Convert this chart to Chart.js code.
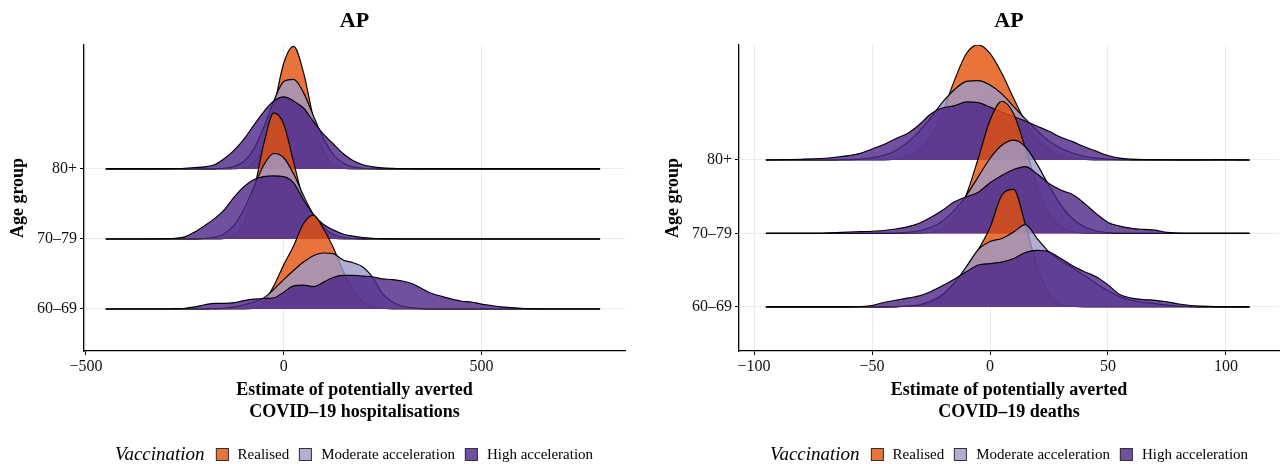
<!DOCTYPE html>
<html>
<head>
<meta charset="utf-8">
<script src="https://cdn.jsdelivr.net/npm/chart.js@4.4.1/dist/chart.umd.min.js"></script>
<style>
  body { margin: 0; background: #fff; }
  #wrap { position: relative; width: 1285px; height: 464px; font-family: "Liberation Serif", serif; }
  canvas { position: absolute; top: 0; }
  .legend { position: absolute; top: 444px; height: 20px; display: flex; align-items: center; color: #000;
            transform: translateX(-50%); white-space: nowrap; }
  .legend .ttl { font-style: italic; font-size: 19px; margin-right: 1px; }
  .legend .box { width: 11px; height: 11px; border: 1px solid #333; margin-left: 10px; margin-right: 9px; }
  .legend .lab { font-size: 15px; }
</style>
</head>
<body>
<div id="wrap">
  <canvas id="chart1" width="640" height="464" style="left:0"></canvas>
  <canvas id="chart2" width="645" height="464" style="left:640px"></canvas>
  <div class="legend" id="leg1" style="left:354px"></div>
  <div class="legend" id="leg2" style="left:1009px"></div>
</div>
<script>
const ageGroups = ['60–69', '70–79', '80+'];
const scenarios = ['Realised', 'Moderate acceleration', 'High acceleration'];
const colors = ['rgba(226,80,10,0.8)', 'rgba(158,154,200,0.8)', 'rgba(76,38,136,0.8)'];

// hospitalisations, density heights (row units) on a 25-step grid
const hospX = [-450,-425,-400,-375,-350,-325,-300,-275,-250,-225,
  -200,-175,-150,-125,-100,-75,-50,-25,0,25,
  50,75,100,125,150,175,200,225,250,275,
  300,325,350,375,400,425,450,475,500,525,
  550,575,600,625,650,675,700,725,750,775,800];
const hospTicks = [-500, 0, 500];

const hosp80Realised = [0,0,0,0,0,0,0,0,0,0,
  0,0,0,0.003,0.017,0.09,0.35,0.88,1.51,1.75,
  1.38,0.73,0.26,0.065,0.01,0,0,0,0,0,
  0,0,0,0,0,0,0,0,0,0,
  0,0,0,0,0,0,0,0,0,0,0];
const hosp80Moderate = [0,0,0,0,0,0,0,0,0,0,
  0,0.002,0.01,0.035,0.11,0.29,0.6,0.97,1.25,1.28,
  1.09,0.76,0.44,0.21,0.085,0.03,0.01,0.003,0,0,
  0,0,0,0,0,0,0,0,0,0,
  0,0,0,0,0,0,0,0,0,0,0];
const hosp80High = [0,0,0,0,0,0.002,0.004,0.006,0.01,0.02,
  0.03,0.06,0.15,0.27,0.43,0.63,0.82,0.97,1.03,0.97,
  0.87,0.68,0.5,0.36,0.22,0.12,0.06,0.03,0.015,0.008,
  0.004,0.002,0,0,0,0,0,0,0,0,
  0,0,0,0,0,0,0,0,0,0,0];
const hosp70Realised = [0,0,0,0,0,0,0,0,0,0,
  0,0.001,0.009,0.057,0.245,0.7,1.37,1.8,1.64,1.1,
  0.55,0.2,0.05,0.01,0,0,0,0,0,0,
  0,0,0,0,0,0,0,0,0,0,
  0,0,0,0,0,0,0,0,0,0,0];
const hosp70Moderate = [0,0,0,0,0,0,0,0,0,0.001,
  0.006,0.023,0.076,0.2,0.43,0.75,1.06,1.22,1.16,0.93,
  0.62,0.35,0.17,0.065,0.022,0.006,0.001,0,0,0,
  0,0,0,0,0,0,0,0,0,0,
  0,0,0,0,0,0,0,0,0,0,0];
const hosp70High = [0,0,0,0,0,0.002,0.005,0.01,0.03,0.1,
  0.19,0.29,0.42,0.6,0.75,0.85,0.89,0.9,0.89,0.8,
  0.56,0.35,0.21,0.13,0.07,0.04,0.02,0.01,0.005,0.002,
  0,0,0,0,0,0,0,0,0,0,
  0,0,0,0,0,0,0,0,0,0,0];
const hosp60Realised = [0,0,0,0,0,0,0,0,0,0,
  0,0,0,0,0,0.01,0.1,0.33,0.63,0.9,
  1.22,1.34,1.15,0.88,0.55,0.27,0.1,0.03,0.01,0,
  0,0,0,0,0,0,0,0,0,0,
  0,0,0,0,0,0,0,0,0,0,0];
const hosp60Moderate = [0,0,0,0,0,0,0,0,0,0,
  0,0.005,0.01,0.03,0.06,0.1,0.16,0.28,0.42,0.55,
  0.67,0.76,0.8,0.79,0.7,0.66,0.6,0.45,0.22,0.1,
  0.04,0.015,0.005,0,0,0,0,0,0,0,
  0,0,0,0,0,0,0,0,0,0,0];
const hosp60High = [0,0,0,0,0,0,0,0.005,0.01,0.03,
  0.06,0.08,0.08,0.09,0.12,0.14,0.15,0.16,0.24,0.33,
  0.34,0.32,0.38,0.45,0.48,0.48,0.47,0.46,0.43,0.42,
  0.4,0.36,0.29,0.22,0.18,0.14,0.11,0.1,0.07,0.05,
  0.03,0.02,0.01,0.005,0.002,0,0,0,0,0,0];

// deaths, 5-step grid
const deathX = [-95,-90,-85,-80,-75,-70,-65,-60,-55,-50,
  -45,-40,-35,-30,-25,-20,-15,-10,-5,0,
  5,10,15,20,25,30,35,40,45,50,
  55,60,65,70,75,80,85,90,95,100,105,110];
const deathTicks = [-100, -50, 0, 50, 100];

const death80Realised = [0,0,0,0,0,0,0,0,0,0,
  0,0.011,0.042,0.13,0.33,0.66,1.09,1.45,1.57,1.45,
  1.18,0.84,0.52,0.28,0.14,0.057,0.02,0.007,0,0,
  0,0,0,0,0,0,0,0,0,0,0,0];
const death80Moderate = [0,0,0,0,0,0,0.002,0.005,0.012,0.03,
  0.064,0.13,0.24,0.39,0.58,0.79,0.96,1.07,1.08,1.02,
  0.9,0.73,0.56,0.4,0.26,0.16,0.095,0.05,0.025,0.012,
  0.005,0.002,0,0,0,0,0,0,0,0,0,0];
const death80High = [0,0.003,0.006,0.01,0.015,0.023,0.04,0.06,0.09,0.15,
  0.21,0.29,0.36,0.48,0.63,0.71,0.74,0.79,0.78,0.72,
  0.65,0.59,0.53,0.46,0.39,0.31,0.25,0.18,0.12,0.06,
  0.025,0.012,0.006,0.004,0.003,0.002,0.002,0.002,0.004,0.005,0.002,0];
const death70Realised = [0,0,0,0,0,0,0,0,0,0,
  0,0,0,0.003,0.017,0.068,0.21,0.53,1.02,1.54,
  1.8,1.63,1.16,0.64,0.27,0.092,0.024,0.005,0,0,
  0,0,0,0,0,0,0,0,0,0,0,0];
const death70Moderate = [0,0,0,0,0,0,0,0,0,0,
  0.0015,0.005,0.014,0.036,0.084,0.17,0.32,0.52,0.77,1.02,
  1.2,1.27,1.18,0.94,0.65,0.39,0.2,0.09,0.034,0.011,
  0.002,0,0,0,0,0,0,0,0,0,0,0];
const death70High = [0,0,0,0,0,0.005,0.012,0.02,0.025,0.03,
  0.04,0.06,0.09,0.14,0.22,0.32,0.43,0.5,0.56,0.69,
  0.79,0.87,0.91,0.81,0.68,0.59,0.53,0.41,0.27,0.15,
  0.1,0.07,0.055,0.045,0.015,0.005,0,0,0,0,0,0];
const death60Realised = [0,0,0,0,0,0,0,0,0,0,
  0,0,0.01,0.02,0.06,0.17,0.32,0.54,0.78,1.08,
  1.52,1.6,1.12,0.55,0.18,0.04,0.01,0,0,0,
  0,0,0,0,0,0,0,0,0,0,0,0];
const death60Moderate = [0,0,0,0,0,0,0,0,0,0,
  0,0.005,0.012,0.03,0.08,0.17,0.33,0.55,0.78,0.89,
  0.93,1.02,1.12,0.93,0.75,0.63,0.53,0.43,0.32,0.22,
  0.14,0.09,0.06,0.045,0.025,0.01,0.004,0,0,0,0,0];
const death60High = [0,0,0,0,0,0,0,0,0.005,0.02,
  0.06,0.09,0.12,0.15,0.21,0.29,0.38,0.48,0.57,0.59,
  0.61,0.66,0.74,0.77,0.75,0.66,0.56,0.48,0.41,0.3,
  0.17,0.12,0.1,0.09,0.07,0.04,0.02,0.01,0.003,0,0,0];

Chart.defaults.font.family = '"Liberation Serif", serif';
Chart.defaults.color = '#000';

const panelTitle = {
  id: 'panelTitle',
  afterDraw(chart, args, opts) {
    const { ctx, chartArea } = chart;
    ctx.save();
    ctx.font = 'bold 22px "Liberation Serif"';
    ctx.fillStyle = '#000';
    ctx.textAlign = 'center';
    ctx.textBaseline = 'middle';
    ctx.fillText(opts.text, (chartArea.left + chartArea.right) / 2, 21);
    ctx.restore();
  }
};

function ridges(xs, rows) {
  // rows: top row first (80+), each [realised, moderate, high]; drawn back to front
  const sets = [];
  rows.forEach((row, r) => {
    const base = 3 - r;
    row.forEach((h, s) => {
      sets.push({
        label: scenarios[s],
        data: xs.map((x, i) => ({ x: x, y: base + h[i] })),
        borderColor: '#000',
        borderWidth: 1.15,
        backgroundColor: colors[s],
        fill: { value: base },
        pointRadius: 0,
        cubicInterpolationMode: 'monotone',
      });
    });
  });
  sets.forEach((d, k) => { d.order = sets.length - k; });
  return sets;
}

function fmt(v) {
  return v < 0 ? '\u2212' + Math.abs(v) : String(v);
}

function makeChart(id, xs, rows, opt) {
  return new Chart(document.getElementById(id), {
    type: 'line',
    data: { datasets: ridges(xs, rows) },
    plugins: [panelTitle],
    options: {
      responsive: false,
      animation: false,
      layout: { padding: { top: 45, left: 0, right: opt.padRight, bottom: 38 } },
      plugins: {
        legend: { display: false },
        tooltip: { enabled: false },
        panelTitle: { text: 'AP' },
      },
      scales: {
        x: {
          type: 'linear',
          min: opt.xMin,
          max: opt.xMax,
          afterBuildTicks: s => { s.ticks = opt.ticks.map(v => ({ value: v })); },
          afterFit: s => { s.height = 75; },
          ticks: { callback: fmt, font: { size: 16 }, padding: 2, maxRotation: 0, color: '#111' },
          grid: { color: '#EBEBEB', lineWidth: 1, tickColor: '#000', tickLength: 4, tickWidth: 1 },
          border: { color: '#000', width: 1.3 },
          title: {
            display: true,
            text: opt.xTitle,
            font: { size: 18, weight: 'bold' },
            padding: { top: 0, bottom: 3 },
          },
        },
        y: {
          type: 'linear',
          min: 0.4,
          max: opt.yMax,
          afterBuildTicks: s => { s.ticks = [1, 2, 3].map(v => ({ value: v })); },
          afterFit: s => { s.width = opt.yWidth; },
          ticks: { callback: v => ageGroups[v - 1], font: { size: 16 }, padding: 3, color: '#111' },
          grid: { color: '#EBEBEB', lineWidth: 1, tickColor: '#000', tickLength: 4, tickWidth: 1 },
          border: { color: '#000', width: 1.3 },
          title: {
            display: true,
            text: 'Age group',
            font: { size: 18, weight: 'bold' },
            padding: { top: opt.yTitlePad, bottom: 0 },
          },
        },
      },
    },
  });
}

makeChart('chart1', hospX, [
  [hosp80Realised, hosp80Moderate, hosp80High],
  [hosp70Realised, hosp70Moderate, hosp70High],
  [hosp60Realised, hosp60Moderate, hosp60High],
], {
  xMin: -505, xMax: 863, yMax: 4.77, ticks: hospTicks,
  padRight: 15, yWidth: 84, yTitlePad: 8,
  xTitle: ['Estimate of potentially averted', 'COVID–19 hospitalisations'],
});

makeChart('chart2', deathX, [
  [death80Realised, death80Moderate, death80High],
  [death70Realised, death70Moderate, death70High],
  [death60Realised, death60Moderate, death60High],
], {
  xMin: -106.4, xMax: 122.5, yMax: 4.565, ticks: deathTicks,
  padRight: 6, yWidth: 99, yTitlePad: 23,
  xTitle: ['Estimate of potentially averted', 'COVID–19 deaths'],
});

function legend(id) {
  const el = document.getElementById(id);
  let html = '<span class="ttl">Vaccination</span>';
  scenarios.forEach((s, i) => {
    html += '<span class="box" style="background:' + colors[i] + '"></span><span class="lab">' + s + '</span>';
  });
  el.innerHTML = html;
}
legend('leg1');
legend('leg2');
</script>
</body>
</html>
